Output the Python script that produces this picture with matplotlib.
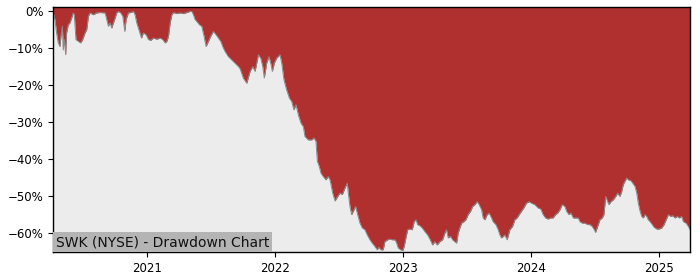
import matplotlib
matplotlib.use("Agg")
import matplotlib.pyplot as plt
import matplotlib.dates as mdates
from matplotlib.ticker import PercentFormatter
import pandas as pd

# Decimal-year positions and drawdown values (%)
year_pos = [
    2020.266, 2020.281, 2020.294, 2020.307, 2020.320, 2020.328, 2020.339, 2020.346, 2020.354, 2020.365,
    2020.372, 2020.385, 2020.398, 2020.411, 2020.424, 2020.432, 2020.445, 2020.464, 2020.482, 2020.497,
    2020.516, 2020.529, 2020.542, 2020.555, 2020.581, 2020.607, 2020.633, 2020.672, 2020.685, 2020.698,
    2020.711, 2020.724, 2020.737, 2020.750, 2020.763, 2020.776, 2020.794, 2020.810, 2020.826, 2020.836,
    2020.854, 2020.872, 2020.893, 2020.906, 2020.919, 2020.940, 2020.956, 2020.971, 2020.992, 2021.010,
    2021.029, 2021.049, 2021.076, 2021.102, 2021.122, 2021.141, 2021.154, 2021.167, 2021.180, 2021.193,
    2021.206, 2021.232, 2021.258, 2021.284, 2021.310, 2021.336, 2021.349, 2021.362, 2021.375, 2021.388,
    2021.409, 2021.427, 2021.445, 2021.461, 2021.479, 2021.497, 2021.518, 2021.539, 2021.557, 2021.576,
    2021.591, 2021.609, 2021.635, 2021.661, 2021.688, 2021.714,
    2021.727, 2021.752, 2021.779, 2021.805, 2021.826, 2021.844, 2021.870, 2021.888, 2021.904, 2021.916,
    2021.935, 2021.953, 2021.969, 2021.979, 2021.995, 2022.013, 2022.039, 2022.052, 2022.070, 2022.091,
    2022.112, 2022.130, 2022.148, 2022.164, 2022.182, 2022.203, 2022.221, 2022.234, 2022.260, 2022.287,
    2022.305, 2022.320, 2022.331, 2022.346, 2022.359, 2022.377, 2022.398, 2022.416, 2022.430, 2022.451,
    2022.469,
    2022.490, 2022.508, 2022.526, 2022.541, 2022.552, 2022.565, 2022.573, 2022.586, 2022.599, 2022.612,
    2022.630, 2022.646, 2022.664, 2022.682, 2022.703, 2022.721, 2022.742, 2022.760, 2022.781, 2022.799,
    2022.813, 2022.826, 2022.846, 2022.859, 2022.880, 2022.898, 2022.916, 2022.938, 2022.951, 2022.963,
    2022.982, 2022.998, 2023.010, 2023.023, 2023.037, 2023.055, 2023.073, 2023.088, 2023.102, 2023.115,
    2023.133, 2023.151, 2023.172, 2023.193,
    2023.211, 2023.232, 2023.250, 2023.268, 2023.289, 2023.310, 2023.328, 2023.341, 2023.354, 2023.373,
    2023.388, 2023.406, 2023.420, 2023.432, 2023.445, 2023.459, 2023.477, 2023.492, 2023.510, 2023.529,
    2023.545, 2023.563, 2023.581, 2023.596, 2023.615, 2023.627, 2023.641, 2023.659, 2023.674, 2023.693,
    2023.705, 2023.727, 2023.745, 2023.758, 2023.771, 2023.784, 2023.797, 2023.815, 2023.836, 2023.857,
    2023.875, 2023.893, 2023.909, 2023.927, 2023.945, 2023.966, 2023.987,
    2024.005, 2024.031, 2024.057, 2024.078, 2024.096, 2024.115, 2024.135, 2024.156, 2024.174, 2024.193,
    2024.209, 2024.227, 2024.245, 2024.266, 2024.279, 2024.297, 2024.313, 2024.331, 2024.349, 2024.370,
    2024.383, 2024.401, 2024.422, 2024.443, 2024.461, 2024.479, 2024.495, 2024.505, 2024.521, 2024.539,
    2024.557, 2024.570, 2024.584, 2024.599, 2024.609, 2024.625, 2024.643, 2024.662, 2024.677, 2024.695,
    2024.709, 2024.721, 2024.734, 2024.748, 2024.760, 2024.779, 2024.795, 2024.813, 2024.826, 2024.838,
    2024.852, 2024.865, 2024.877, 2024.891, 2024.904, 2024.916, 2024.930, 2024.943, 2024.961, 2024.982,
    2025.002, 2025.021, 2025.039, 2025.055, 2025.073, 2025.091, 2025.107, 2025.125, 2025.143, 2025.159,
    2025.177, 2025.190, 2025.211, 2025.229, 2025.242,
]

drawdown = [
    0.0, -2.2, -5.8, -8.5, -9.5, -6.7, -4.0, -10.4, -7.6, -11.7,
    -5.8, -3.6, -3.1, -1.8, -0.4, -0.9, -7.6, -8.1, -8.5, -7.6,
    -5.8, -4.9, -1.3, -0.4, -0.9, -0.4, -0.3, -0.4, -2.2, -4.0,
    -3.1, -4.5, -3.1, -1.8, -0.4, 0.0, -0.4, -1.3, -5.4, -2.2,
    -0.4, -0.3, 0.0, -0.9, -3.1, -5.4, -7.2, -5.8, -6.3, -7.6,
    -7.8, -7.2, -7.5, -7.2, -7.6, -8.5, -8.1, -6.7, -3.1, -0.9,
    -0.3, -0.6, -0.4, -0.6, -0.3, 0.0, 0.0, -0.9, -2.2, -2.7,
    -3.6, -4.0, -6.7, -9.5, -8.1, -6.7, -5.4, -6.3, -7.2, -8.1,
    -9.5, -10.8, -12.2, -13.1, -14.0, -14.9,
    -15.5, -18.0, -19.4, -16.2, -14.9, -16.2, -11.7, -12.6, -14.9, -18.0,
    -13.9, -12.2, -14.4, -16.2, -13.9, -12.6, -11.7, -13.9, -18.5, -21.2,
    -23.4, -24.3, -26.6, -25.2, -27.9, -30.2, -31.1, -33.8, -34.7, -34.7,
    -34.2, -35.1, -40.5, -41.9, -43.7, -44.6, -45.5, -44.6, -45.5, -49.1,
    -51.2,
    -50.0, -49.1, -49.5, -48.2, -47.3, -46.4, -49.1, -52.7, -54.9, -54.0,
    -52.7, -54.9, -57.2, -58.5, -59.0, -60.4, -61.7, -62.6, -63.5, -64.4,
    -63.7, -64.4, -64.4, -62.2, -61.7, -61.5, -61.7, -61.7, -62.6, -63.9,
    -64.4, -64.6, -63.5, -61.2, -59.0, -58.8, -59.0, -56.8, -56.3, -57.6,
    -57.9, -58.5, -59.5, -60.4,
    -61.5, -63.1, -62.2, -63.1, -62.2, -61.7, -59.9, -59.0, -61.2, -60.8,
    -61.7, -62.2, -62.6, -59.9, -58.5, -57.2, -56.8, -56.3, -54.9, -54.0,
    -52.7, -52.2, -51.4, -52.2, -53.6, -55.8, -56.3, -54.9, -54.5, -55.8,
    -56.8, -57.6, -59.0, -60.4, -61.2, -60.8, -60.4, -61.7, -59.0, -58.1,
    -56.3, -55.8, -54.9, -54.0, -53.1, -51.8, -51.4,
    -51.8, -52.2, -53.1, -53.4, -54.9, -55.8, -56.1, -55.8, -55.8, -54.9,
    -54.5, -53.6, -52.2, -52.7, -54.0, -54.9, -54.5, -55.8, -55.8, -55.8,
    -56.8, -57.2, -57.2, -57.6, -57.6, -58.1, -59.0, -59.7, -58.1, -56.3,
    -55.8, -54.9, -50.0, -51.4, -52.2, -51.4, -50.9, -50.0, -49.1, -50.0,
    -48.6, -46.8, -45.9, -45.0, -45.5, -45.7, -46.4, -47.3, -49.1, -51.8,
    -54.0, -55.4, -55.8, -54.9, -55.4, -56.3, -56.8, -57.4, -58.3, -58.8,
    -58.8, -58.5, -57.6, -56.3, -54.9, -55.4, -55.2, -55.8, -55.4, -55.8,
    -55.4, -56.8, -57.2, -58.1, -59.0,
]

y_ticks = [0, -10, -20, -30, -40, -50, -60]
title_text = "SWK (NYSE) - Drawdown Chart"


def to_date(y):
    yi = int(y)
    start = pd.Timestamp(year=yi, month=1, day=1)
    end = pd.Timestamp(year=yi + 1, month=1, day=1)
    return start + (end - start) * (y - yi)


dates = [to_date(y) for y in year_pos]

fig = plt.figure(figsize=(7, 2.8), dpi=100)
ax = fig.add_axes([0.0757, 0.1, 0.91, 0.875])
ax.set_facecolor("#ececec")

y_top = 1.2
y_bottom = -65.0
ax.fill_between(dates, drawdown, y_top, color="#b03030", linewidth=0)
ax.plot(dates, drawdown, color="#8a8a8a", linewidth=0.7)

ax.set_xlim(dates[0], dates[-1])
ax.set_ylim(y_bottom, y_top)
ax.set_yticks(y_ticks)
ax.yaxis.set_major_formatter(PercentFormatter(xmax=100, decimals=0))
ax.xaxis.set_major_locator(mdates.YearLocator())
ax.xaxis.set_major_formatter(mdates.DateFormatter("%Y"))
ax.tick_params(labelsize=8.5)

for s in ax.spines.values():
    s.set_color("black")
    s.set_linewidth(1.0)

ax.annotate(title_text, xy=(0, 0), xycoords="axes fraction",
            xytext=(2, 2), textcoords="offset points",
            ha="left", va="bottom", fontsize=10, color="#111111",
            bbox=dict(boxstyle="square,pad=0.2", fc="#b4b4b4", ec="none"))

fig.savefig("out.png", dpi=100)
